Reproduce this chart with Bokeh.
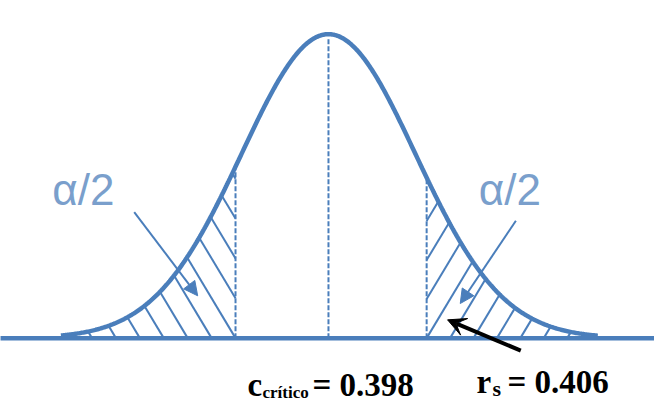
import numpy as np
from bokeh.plotting import figure
from bokeh.models import Arrow, NormalHead, VeeHead, Label, Range1d
from bokeh.embed import file_html
from bokeh.resources import INLINE

# ---------------- data ----------------
z_curve = [-3.08, 3.10]          # extent of the drawn bell curve (z units)
z_crit = [-1.07, 1.13]           # left / right critical lines
baseline_x = [-3.78, 3.80]       # horizontal axis line
c_critico = 0.398
r_s = 0.406
tail_label = "α/2"

# ---------------- styles / layout ----------------
W, H = 654, 404
FX, FY = W / 670.0, H / 420.0    # reference picture -> canvas
BLUE = "#4a7ebb"
LIGHT = "#7a9fcc"
SX = 89.0 * FX                   # px per z unit
CX = 336.0 * FX                  # centre x on canvas (px)
BASE_V = H - 351.0 * FY          # baseline height above canvas bottom
PEAK_H = (351.0 - 35.0) * FY     # peak height (px)


def pdf(z):
    return np.exp(-np.asarray(z, dtype=float) ** 2 / 2) / np.sqrt(2 * np.pi)


SY = PEAK_H / float(pdf(0.0))

p = figure(width=W, height=H,
           x_range=Range1d(-CX / SX, (W - CX) / SX),
           y_range=Range1d(-BASE_V / SY, (H - BASE_V) / SY),
           output_backend="svg", toolbar_location=None, min_border=0,
           x_axis_location=None, y_axis_location=None,
           outline_line_color=None, background_fill_color="white",
           border_fill_color="white")
p.grid.visible = False


def img(ix, iy):
    """reference pixel -> data coordinates (for annotations)"""
    return (ix * FX - CX) / SX, (H - iy * FY - BASE_V) / SY


# ---------------- hatching of the two tails ----------------
def h_px(u):
    return float(pdf(u / SX)) * SY


def hatch(side, spacing, k):
    uc = (z_crit[0] if side == "L" else z_crit[1]) * SX
    ulim = (z_curve[0] if side == "L" else z_curve[1]) * SX
    hc = h_px(uc)
    xs0, ys0, xs1, ys1 = [], [], [], []
    for m in range(-10, 16):
        if side == "L":
            c = uc - m * spacing
            if c < ulim:
                continue
            if c > uc:
                u0, v0 = uc, (c - uc) / k
            else:
                u0, v0 = c, 0.0
            f = lambda v: h_px(c - k * v) - v
            pos = lambda v: c - k * v
        else:
            c = uc + m * spacing
            if c > ulim:
                continue
            if c < uc:
                u0, v0 = uc, (uc - c) / k
            else:
                u0, v0 = c, 0.0
            f = lambda v: h_px(c + k * v) - v
            pos = lambda v: c + k * v
        if v0 >= hc or f(v0) <= 0:
            continue
        lo, hi = v0, v0 + 500
        for _ in range(60):
            mid = (lo + hi) / 2
            if f(mid) > 0:
                lo = mid
            else:
                hi = mid
        v1 = lo
        xs0.append(u0 / SX); ys0.append(v0 / SY)
        xs1.append(pos(v1) / SX); ys1.append(v1 / SY)
    return xs0, ys0, xs1, ys1


for side, sp in (("L", 24.5 * FX), ("R", 24.0 * FX)):
    a, b, c_, d = hatch(side, sp, 0.6)
    p.segment(x0=a, y0=b, x1=c_, y1=d, line_color=BLUE, line_width=2)

# ---------------- dashed verticals ----------------
vx = [0.0, z_crit[0], z_crit[1]]
p.segment(x0=vx, y0=[0, 0, 0], x1=vx, y1=list(pdf(vx) * 0.985),
          line_color=BLUE, line_width=2, line_dash="5 2")

# ---------------- curve and baseline ----------------
zs = np.linspace(z_curve[0], z_curve[1], 500)
p.line(zs, pdf(zs), line_color=BLUE, line_width=4.5)
p.line(baseline_x, [0, 0], line_color=BLUE, line_width=4.5)

# ---------------- leader arrows to the tails ----------------
for (sx_, sy_), (ex_, ey_) in (((137, 220), (202, 307)), ((528, 229), (471, 315))):
    xs, ys = img(sx_, sy_)
    xe, ye = img(ex_, ey_)
    p.add_layout(Arrow(x_start=xs, y_start=ys, x_end=xe, y_end=ye,
                       line_color=BLUE, line_width=2,
                       end=NormalHead(size=14, fill_color=BLUE, line_color=BLUE)))

xs, ys = img(533, 364)
xe, ye = img(458, 332)
p.add_layout(Arrow(x_start=xs, y_start=ys, x_end=xe, y_end=ye,
                   line_color="black", line_width=4,
                   end=VeeHead(size=18, fill_color="black", line_color="black")))

# ---------------- texts ----------------
DESC = 0.22   # descent fraction of font size (bottom anchor -> baseline)

for lx in (53, 490):
    p.add_layout(Label(x=lx * FX, y=H - 212 * FY - DESC * 44, x_units="screen",
                       y_units="screen", text=tail_label,
                       text_font="Liberation Sans", text_font_size="44px",
                       text_color=LIGHT, text_baseline="bottom"))

SERIF = "Liberation Serif"


def lab(x, base_v, t, size):
    p.add_layout(Label(x=x, y=base_v - DESC * size, x_units="screen",
                       y_units="screen", text=t, text_font=SERIF,
                       text_font_style="bold", text_font_size=f"{size}px",
                       text_color="black", text_baseline="bottom"))


lab(247, 9, "c", 33)
lab(262, 6, "crítico", 17)
lab(312, 9, f"= {c_critico:.3f}", 33)

lab(476, 12, "r", 33)
lab(492, 8, "s", 22)
lab(507, 12, f"= {r_s:.3f}", 33)

open("out.html", "w").write(file_html(p, INLINE))
